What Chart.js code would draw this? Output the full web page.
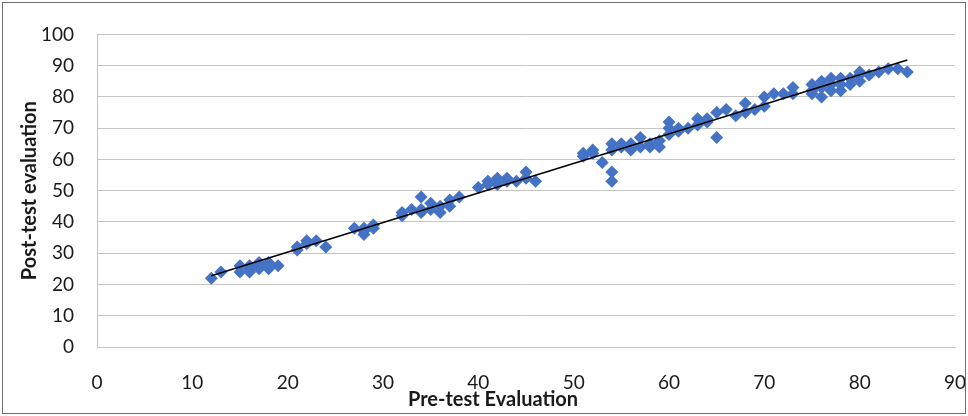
<html lang="en">
<head>
  <meta charset="UTF-8">
  <title>Pre-test vs Post-test</title>
  <script src="https://cdn.jsdelivr.net/npm/chart.js"></script>
  <style>
    body, html {
      margin: 0;
      padding: 0;
      background-color: #ffffff;
    }
    #myChart {
      display: block;
      outline: 1px solid #6f6f6f;
      outline-offset: -3px;
    }
  </style>
</head>
<body>
  <canvas id="myChart" width="968" height="416"></canvas>

  <script>
    // pre-test score (x) and post-test score (y)
    const preTest = [12, 13,
      15, 15, 16, 16, 16, 17, 17, 17, 18, 18, 18, 19,
      21, 21, 22, 22, 23, 24,
      27, 28, 28, 28, 29, 29,
      32, 32, 33, 34, 34, 34, 35, 35, 36, 36, 37, 37, 38,
      40, 41, 41, 42, 42, 43, 43, 44, 45, 45, 46,
      51, 51, 52, 52, 53, 54, 54, 54, 54, 55, 55, 56, 56, 57, 57, 58, 58, 59, 59,
      60, 60, 60, 61, 61, 62, 63, 63, 64, 64, 65, 65, 66, 67, 68, 68, 69, 70, 70, 71, 72, 73, 73,
      75, 75, 75, 76, 76, 76, 77, 77, 77, 78, 78, 78, 79, 79, 80, 80, 80, 81, 82, 83, 84, 85];
    const postTest = [22, 24,
      26, 24, 25, 24, 26, 25, 27, 26, 25, 27, 26, 26,
      31, 32, 34, 33, 34, 32,
      38, 37, 38, 36, 38, 39,
      42, 43, 44, 48, 43, 44, 46, 44, 45, 43, 47, 45, 48,
      51, 52, 53, 54, 52, 53, 54, 53, 56, 54, 53,
      62, 61, 63, 62, 59, 65, 63, 56, 53, 65, 64, 65, 63, 67, 64, 64, 65, 66, 64,
      72, 70, 68, 70, 69, 70, 73, 71, 72, 73, 75, 67, 76, 74, 78, 75, 76, 80, 77, 81, 81, 83, 81,
      84, 82, 81, 85, 83, 80, 86, 84, 82, 86, 84, 82, 86, 84, 88, 87, 85, 87, 88, 89, 89, 88];

    // linear trendline end points
    const trendX = [12, 85];
    const trendY = [22.8, 91.8];

    const xTicks = [0, 10, 20, 30, 40, 50, 60, 70, 80, 90];
    const yTicks = [0, 10, 20, 30, 40, 50, 60, 70, 80, 90, 100];

    const fontFamily = 'Lato, "Open Sans", sans-serif';
    const textColor = '#1a1a1a';
    const gridColor = '#c4c4c4';

    const points = preTest.map((x, i) => ({ x: x, y: postTest[i] }));
    const trend = trendX.map((x, i) => ({ x: x, y: trendY[i] }));

    // x title sits a bit left of the plot centre in the original
    const xTitlePlugin = {
      id: 'xTitle',
      afterDraw(chart) {
        const c = chart.ctx;
        c.save();
        c.font = 'bold 20px ' + fontFamily;
        c.fillStyle = textColor;
        c.textAlign = 'center';
        c.textBaseline = 'middle';
        c.fillText('Pre-test Evaluation', 493, 400);
        c.restore();
      }
    };

    const ctx = document.getElementById('myChart').getContext('2d');
    const myChart = new Chart(ctx, {
      type: 'scatter',
      data: {
        datasets: [
          {
            label: 'Post-test evaluation',
            data: points,
            pointStyle: 'rectRot',
            pointRadius: 6.5,
            pointHoverRadius: 6.5,
            backgroundColor: '#4472C4',
            borderColor: '#4472C4',
            borderWidth: 0,
            order: 2
          },
          {
            label: 'Linear trend',
            type: 'line',
            data: trend,
            borderColor: '#000000',
            borderWidth: 1.5,
            pointRadius: 0,
            fill: false,
            order: 1
          }
        ]
      },
      options: {
        responsive: false,
        animation: false,
        layout: {
          padding: { top: 22, right: 13, left: 0, bottom: 0 }
        },
        scales: {
          x: {
            type: 'linear',
            min: 0,
            max: 90,
            afterBuildTicks: (axis) => { axis.ticks = xTicks.map(v => ({ value: v })); },
            afterFit: (axis) => {
              axis.height = 69;
              axis.paddingLeft = 0;
              axis.paddingRight = 0;
            },
            grid: { display: false, drawTicks: false },
            border: { display: true, color: gridColor, width: 1 },
            ticks: {
              color: textColor,
              padding: 24,
              font: { family: fontFamily, size: 19 }
            }
          },
          y: {
            min: 0,
            max: 100,
            afterBuildTicks: (axis) => { axis.ticks = yTicks.map(v => ({ value: v })); },
            afterFit: (axis) => { axis.width = 97; },
            grid: { color: gridColor, lineWidth: 1, drawTicks: false },
            border: { display: true, color: gridColor, width: 1 },
            title: {
              display: true,
              text: 'Post-test evaluation',
              color: textColor,
              font: { family: fontFamily, size: 20, weight: 'bold' },
              padding: { top: 18, bottom: 0 }
            },
            ticks: {
              color: textColor,
              padding: 23,
              font: { family: fontFamily, size: 19 }
            }
          }
        },
        plugins: {
          legend: { display: false },
          tooltip: { enabled: false }
        }
      },
      plugins: [xTitlePlugin]
    });
  </script>
</body>
</html>
